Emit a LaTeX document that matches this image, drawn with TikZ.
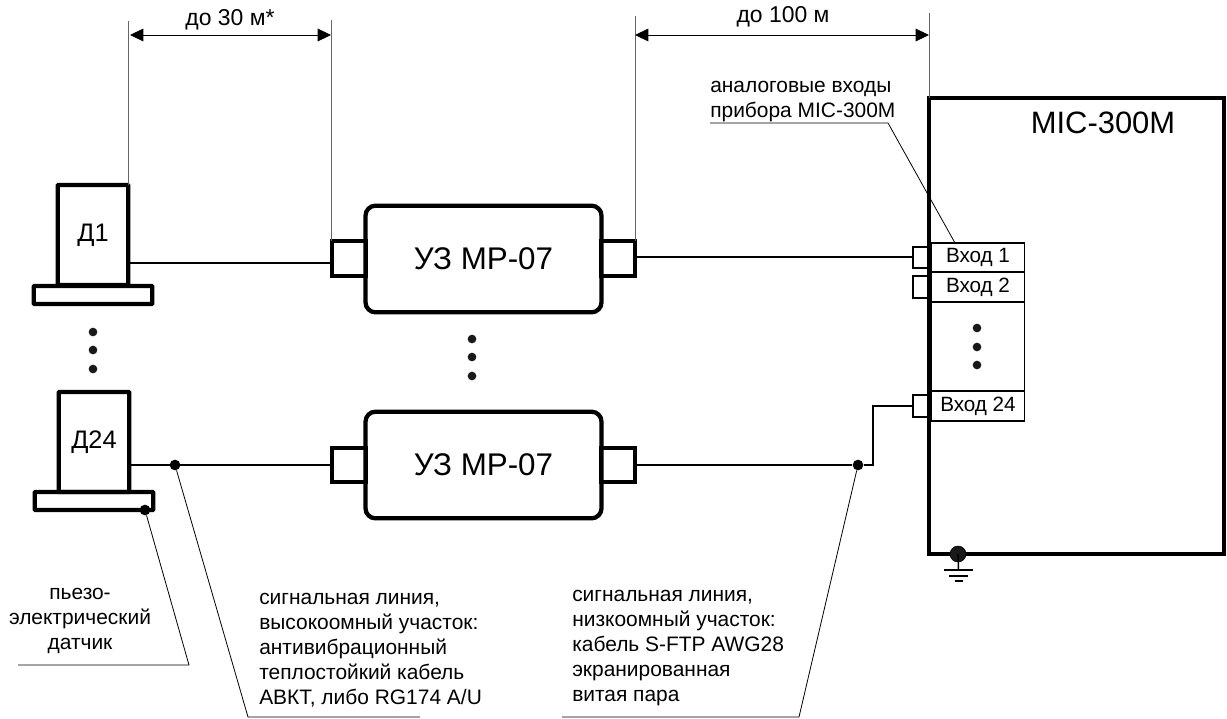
\documentclass[tikz,border=0pt]{standalone}
\usepackage{fontspec}
\setmainfont{Liberation Sans}
\usetikzlibrary{
    positioning,
    arrows.meta
}
\tikzset{
    thickbox/.style={
        rectangle, draw, line width=3.2pt, inner sep=0pt, outer sep=0pt
    },
    sensorbody/.style={
        thickbox, rounded corners=0.5pt, minimum width=53pt, minimum height=75pt,
        font=\fontsize{19}{23}\selectfont
    },
    sensorbase/.style={
        thickbox, rounded corners=0.5pt, minimum width=89pt, minimum height=13.5pt
    },
    unitbox/.style={
        thickbox, rounded corners=7.5pt, minimum width=177pt, minimum height=80pt,
        font=\fontsize{23.5}{28}\selectfont
    },
    jack/.style={
        thickbox, minimum width=25.5pt, minimum height=26pt
    },
    pin/.style={
        rectangle, draw, line width=1.6pt, minimum width=12pt, inner sep=0pt, outer sep=0pt
    },
    inputbox/.style={
        rectangle, draw, line width=0.9pt, minimum width=70pt, inner sep=0pt, outer sep=0pt,
        font=\fontsize{15.5}{18}\selectfont
    },
    dot/.style={
        circle, fill=black, minimum size=8pt, inner sep=0pt
    },
    listdot/.style={
        circle, fill=black!90, minimum size=6.5pt, inner sep=0pt
    },
    wire/.style={
        line width=1.1pt
    },
    leader/.style={
        line width=0.6pt
    },
    extline/.style={
        line width=0.7pt, black!60
    },
    note/.style={
        font=\fontsize{15.7}{18.75}\selectfont, inner sep=0pt
    },
    distnote/.style={
        font=\fontsize{17.2}{20}\selectfont, inner sep=0pt
    },
    span/.style={
        {Stealth[length=10pt,width=9.5pt,inset=0pt]}-{Stealth[length=10pt,width=9.5pt,inset=0pt]}, line width=0.6pt
    }
}
\begin{document}
\begin{tikzpicture}[x=0.75pt,y=-0.75pt]
    \useasboundingbox (0,0) rectangle (1227,718);

    % --- sensors ---
    \node[sensorbody] (d1) at (93,235) {Д1};
    \node[sensorbase] (base1) at (93,295) {};
    \node[sensorbody] (d24) at (94,442) {Д24};
    \node[sensorbase] (base24) at (94,501) {};

    % --- units ---
    \node[unitbox] (uz1) at (483.5,259) {УЗ MP-07};
    \node[unitbox] (uz2) at (483.5,465) {УЗ MP-07};
    \node[jack] (in1) at (349,258.5) {};
    \node[jack] (out1) at (618,258.5) {};
    \node[jack] (in2) at (349,465) {};
    \node[jack] (out2) at (618,465) {};

    % --- device ---
    \node[thickbox, minimum width=221pt, minimum height=342pt] (mic) at (1076.5,326) {};
    \node[font=\fontsize{23.2}{28}\selectfont, inner sep=0pt] (micname) at (1103,123) {MIC-300M};
    \node[inputbox, minimum height=21.75pt] (vh1) at (978,257.5) {Вход 1};
    \node[inputbox, minimum height=22.5pt] (vh2) at (978,287) {Вход 2};
    \node[inputbox, minimum height=66.75pt] (vhdots) at (978,346.5) {};
    \node[inputbox, minimum height=22.5pt] (vh24) at (978,406) {Вход 24};
    \node[pin, minimum height=15.75pt] (pin1) at (921,257.5) {};
    \node[pin, minimum height=16.5pt] (pin2) at (921,287) {};
    \node[pin, minimum height=16.5pt] (pin24) at (921,406) {};

    % --- dots ---
    \foreach \y in {332,350,369}
        \node[listdot] at (93,\y) {};
    \foreach \y in {339,357,376}
        \node[listdot] at (472,\y) {};
    \foreach \y in {328,347,365}
        \node[listdot] at (977,\y) {};

    % --- wires ---
    \coordinate (d1w) at (129,263);
    \coordinate (out1w) at (636,257);
    \coordinate (bend) at (873,465);
    \node[dot] (j1) at (175,465) {};
    \node[dot] (j2) at (858,465) {};
    \draw[wire] (d1w) -- (d1w -| in1.west);
    \draw[wire] (out1w) -- (out1w -| pin1.west);
    \draw[wire] (d24.east |- in2.west) -- (in2.west);
    \draw[wire] (out2.east) -- (j2) -- (bend) |- (pin24.west);

    % --- dimensions ---
    \coordinate (t1) at (128,21);
    \coordinate (t2) at (331,20);
    \coordinate (t3) at (635,16);
    \coordinate (t4) at (929,13);
    \draw[extline] (t1) -- (t1 |- d1.north);
    \draw[extline] (t2) -- (t2 |- in1.north);
    \draw[extline] (t3) -- (t3 |- out1.north);
    \draw[extline] (t4) -- (t4 |- mic.north);
    \coordinate (a1) at (130,35);
    \coordinate (a2) at (331,35);
    \coordinate (a3) at (635,35);
    \coordinate (a4) at (929,35);
    \draw[span] (a1) -- (a2);
    \draw[span] (a3) -- (a4);
    \node[distnote] (dist1) at (230,20) {до 30 м*};
    \node[distnote] (dist2) at (783,17) {до 100 м};

    % --- ground ---
    \node[circle, fill=black!90, draw=black, minimum size=12pt, inner sep=0pt] (gnd) at (958,554) {};
    \coordinate (g1) at (958.5,570);
    \coordinate (g2) at (958.5,576);
    \coordinate (g3) at (958.5,581);
    \draw[wire] (gnd.center) -- (g1);
    \draw[line width=2.2pt] ([xshift=-11pt]g1) -- ([xshift=11pt]g1);
    \draw[line width=2.2pt] ([xshift=-7pt]g2) -- ([xshift=7pt]g2);
    \draw[line width=2.2pt] ([xshift=-3pt]g3) -- ([xshift=3pt]g3);

    % --- notes ---
    \node[note, align=left, anchor=north west] (nvh) at (710,81) {аналоговые входы\\прибора MIC-300M};
    \coordinate (l1a) at (710,123);
    \coordinate (l1b) at (888,123);
    \draw[leader] (l1a) -- (l1b) -- (vh1.north -| 955,0);

    \node[dot] (j3) at (145,510) {};
    \node[note, align=center] (npiezo) at (80,621) {пьезо-\\электрический\\датчик};
    \coordinate (l2a) at (18,665);
    \coordinate (l2b) at (189,665);
    \draw[leader] (l2a) -- (l2b) -- (j3);

    \node[note, align=left, anchor=north west] (nhigh) at (259,593) {сигнальная линия,\\высокоомный участок:\\антивибрационный\\теплостойкий кабель\\АВКТ, либо RG174 A/U};
    \coordinate (l3a) at (420,717);
    \coordinate (l3b) at (248,717);
    \draw[leader] (l3a) -- (l3b) -- (j1);

    \node[note, align=left, anchor=north west] (nlow) at (572,590) {сигнальная линия,\\низкоомный участок:\\кабель S-FTP AWG28\\экранированная\\витая пара};
    \coordinate (l4a) at (562,717);
    \coordinate (l4b) at (799,717);
    \draw[leader] (l4a) -- (l4b) -- (j2);
\end{tikzpicture}
\end{document}
